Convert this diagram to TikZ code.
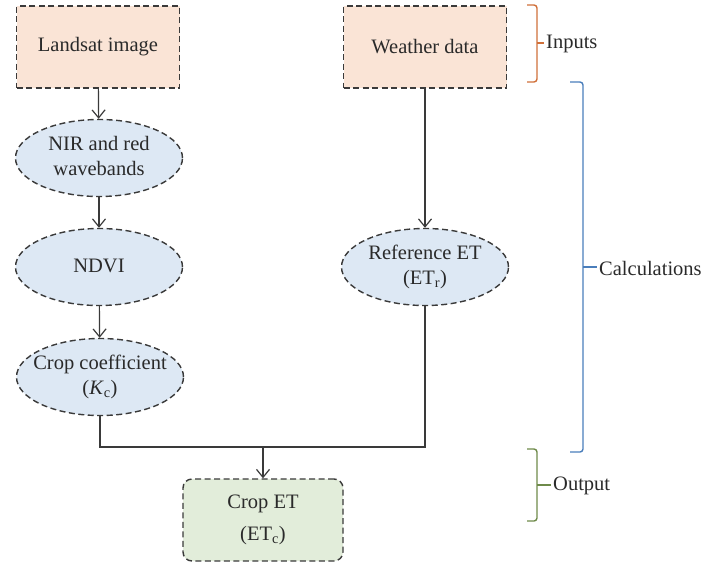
\documentclass[tikz,border=0pt]{standalone}
\usepackage{fontspec}
\setmainfont{Liberation Serif}
\usetikzlibrary{shapes.geometric,arrows.meta}
\definecolor{peach}{HTML}{FAE4D6}
\definecolor{lblue}{HTML}{DDE8F4}
\definecolor{lgreen}{HTML}{E2EDDA}
\definecolor{edge}{HTML}{3A3A3A}
\definecolor{txt}{HTML}{2A2A2A}
\definecolor{bor}{HTML}{D0703A}
\definecolor{bbl}{HTML}{4A7EBB}
\definecolor{bgr}{HTML}{6E8A4A}
\newcommand{\ctext}[1]{\makebox[60pt][c]{\begin{tabular}{@{}c@{}}#1\end{tabular}}}
\begin{document}
\begin{tikzpicture}[x=1pt,y=-1pt,
  every node/.style={text=txt,font=\fontsize{20.5}{25}\selectfont,align=center,inner sep=0pt},
  dashline/.style={draw=edge,line width=1.4pt,dash pattern=on 6pt off 3.5pt},
  inbox/.style={dashline,fill=peach,rectangle,minimum width=163pt,minimum height=82pt},
  calc/.style={dashline,fill=lblue,ellipse,minimum width=167pt,minimum height=77pt},
  outbox/.style={dashline,fill=lgreen,rectangle,rounded corners=9pt,minimum width=160pt,minimum height=82pt},
  conn/.style={draw=edge,line width=1.2pt},
  arr/.style={conn,-{Straight Barb[length=8pt,width=13pt,line width=1.2pt]}},
  brace/.style={line width=1.4pt,rounded corners=3pt},
  lbl/.style={anchor=west}
]
\useasboundingbox (0,0) rectangle (707,563);
\node[inbox] (land) at (98,47) {Landsat image};
\node[inbox] (weather) at (425,47) {Weather data};
\node[calc] (nir) at (99,158) {\ctext{NIR and red\\wavebands}};
\node[calc] (ndvi) at (99,267) {\ctext{NDVI}};
\node[calc] (kc) at (100,377) {\ctext{Crop coefficient\\(\textit{K}\textsubscript{c})}};
\node[calc] (etr) at (425,267) {\ctext{Reference ET\\(ET\textsubscript{r})}};
\node[outbox,font=\fontsize{20.5}{32}\selectfont] (crop) at (263,520) {Crop ET\\(ET\textsubscript{c})};
\coordinate (j) at (263,447);
\draw[arr] (land) -- (nir);
\draw[arr] (nir) -- (ndvi);
\draw[arr] (ndvi) -- (kc);
\draw[arr] (weather) -- (etr);
\draw[conn] (kc.south) |- (j) -| (etr.south);
\draw[arr] (j) -- (crop);
% braces
\draw[brace,draw=bor] (527,5) -| (537,43) |- (527,82);
\draw[line width=1.4pt,draw=bor] (537,43) -- (544,43);
\node[lbl] (inputs) at (546,44) {Inputs};
\draw[brace,draw=bbl] (570,82) -| (583,267) |- (570,452);
\draw[line width=1.4pt,draw=bbl] (583,267) -- (597,267);
\node[lbl] (calcs) at (599,268) {Calculations};
\draw[brace,draw=bgr] (527,449) -| (537,485) |- (527,521);
\draw[line width=1.4pt,draw=bgr] (537,485) -- (551,485);
\node[lbl] (outp) at (553,486) {Output};
\end{tikzpicture}
\end{document}
